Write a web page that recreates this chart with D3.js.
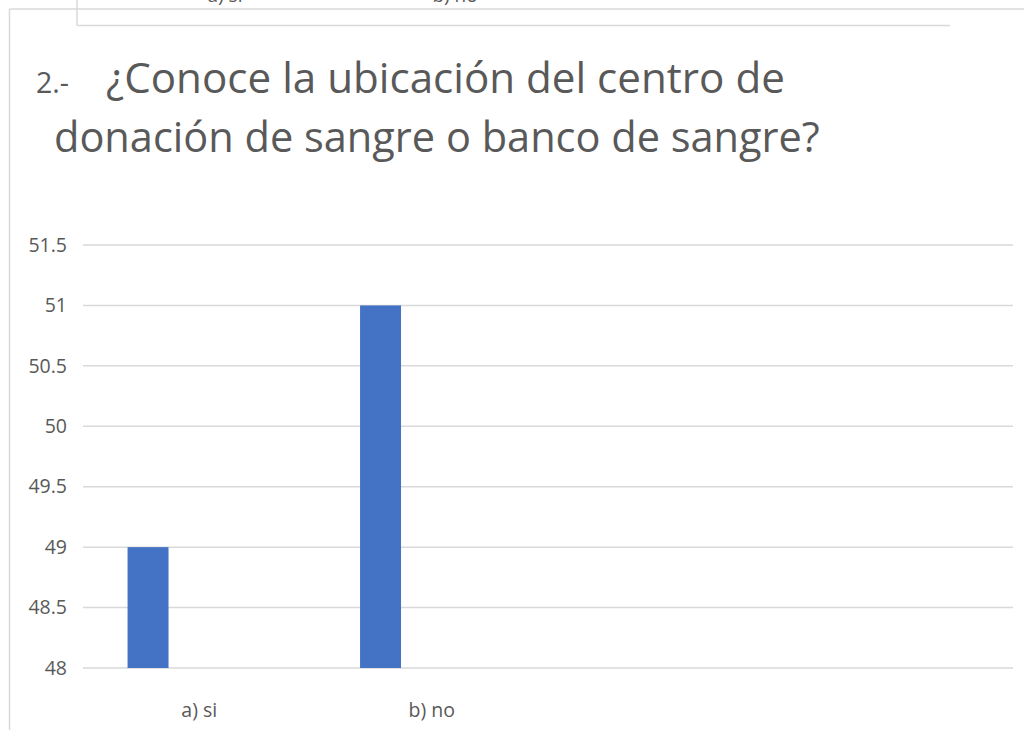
<!DOCTYPE html>
<html><head><meta charset="utf-8">
<script src="https://cdn.jsdelivr.net/npm/d3@7"></script>
<style>body{margin:0;background:#fff}svg{display:block}</style>
</head><body>
<svg id="c" width="1024" height="730"></svg>
<script>
const categories = ["a) si", "b) no", "", ""];
const series = ["Serie1", "Serie2", "Serie3"];
const values = [49, 51, null, null];
const yTicks = [48, 48.5, 49, 49.5, 50, 50.5, 51, 51.5];
const prevLabels = ["a) si", "b) no"];
const titleNum = "2.-";
const titleLine1 = "¿Conoce la ubicación del centro de";
const titleLine2 = "donación de sangre o banco de sangre?";

const svg = d3.select("#c");
const grid = "#d9d9d9", txt = "#595959", font = "Open Sans, Noto Sans, sans-serif";

// chart frame
svg.append("line").attr("x1",9.5).attr("x2",1024).attr("y1",9).attr("y2",9).attr("stroke",grid).attr("stroke-width",1.5);
svg.append("line").attr("x1",9.5).attr("x2",9.5).attr("y1",9).attr("y2",730).attr("stroke",grid).attr("stroke-width",1.5);
// previous chart's frame bottom (cut off)
svg.append("line").attr("x1",77).attr("x2",950).attr("y1",25.5).attr("y2",25.5).attr("stroke",grid).attr("stroke-width",1.5);
svg.append("line").attr("x1",77).attr("x2",77).attr("y1",0).attr("y2",25.5).attr("stroke",grid).attr("stroke-width",1.5);
const px = d3.scaleBand().domain(prevLabels).range([110, 570]);
svg.selectAll(".pl").data(prevLabels).join("text").attr("x",d=>px(d)+px.bandwidth()/2).attr("y",2)
  .attr("text-anchor","middle").attr("font-family",font).attr("font-size",19).attr("fill",txt).text(d=>d);

function fit(sel, w){ const l = sel.node().getComputedTextLength(); const fs = +sel.attr("font-size"); sel.attr("font-size", fs*w/l); }

// title
const t0 = svg.append("text").attr("x",36).attr("y",93).attr("font-family",font).attr("font-size",22).attr("fill",txt).text(titleNum);
fit(t0, 33);
const t1 = svg.append("text").attr("x",106).attr("y",93).attr("font-family",font).attr("font-size",36).attr("fill",txt).text(titleLine1);
fit(t1, 679);
const t2 = svg.append("text").attr("x",54).attr("y",152).attr("font-family",font).attr("font-size",36).attr("fill",txt).text(titleLine2);
fit(t2, 766);

const left = 83, right = 1013;
const y = d3.scaleLinear().domain([48, 51.5]).range([668, 245]);
const x0 = d3.scaleBand().domain(d3.range(categories.length)).range([left, right]);
const x1 = d3.scaleBand().domain(series).range([0, x0.bandwidth()]).paddingInner(0.2).paddingOuter(0.87);

// gridlines
svg.append("g").selectAll("line").data(yTicks).join("line")
  .attr("x1",left).attr("x2",right).attr("y1",d=>y(d)).attr("y2",d=>y(d))
  .attr("stroke",grid).attr("stroke-width",1.5);

// y axis labels
const yAxis = d3.axisLeft(y).tickValues(yTicks).tickSize(0).tickPadding(16).tickFormat(d3.format("~g"));
const ga = svg.append("g").attr("transform",`translate(${left},0)`).call(yAxis);
ga.select(".domain").remove();
ga.selectAll("text").attr("font-family",font).attr("font-size",19.5).attr("fill",txt);

// bars
svg.append("g").selectAll("rect").data(values.map((v,i)=>({v,i})).filter(d=>d.v!=null)).join("rect")
  .attr("x",d=>x0(d.i)+x1("Serie1")).attr("width",x1.bandwidth())
  .attr("y",d=>y(d.v)).attr("height",d=>y(48)-y(d.v)).attr("fill","#4472c4");

// category labels
svg.append("g").selectAll("text").data(categories.map((c,i)=>({c,i}))).join("text")
  .attr("x",d=>x0(d.i)+x0.bandwidth()/2).attr("y",717).attr("text-anchor","middle")
  .attr("font-family",font).attr("font-size",19.5).attr("fill",txt).text(d=>d.c);
</script>
</body></html>
